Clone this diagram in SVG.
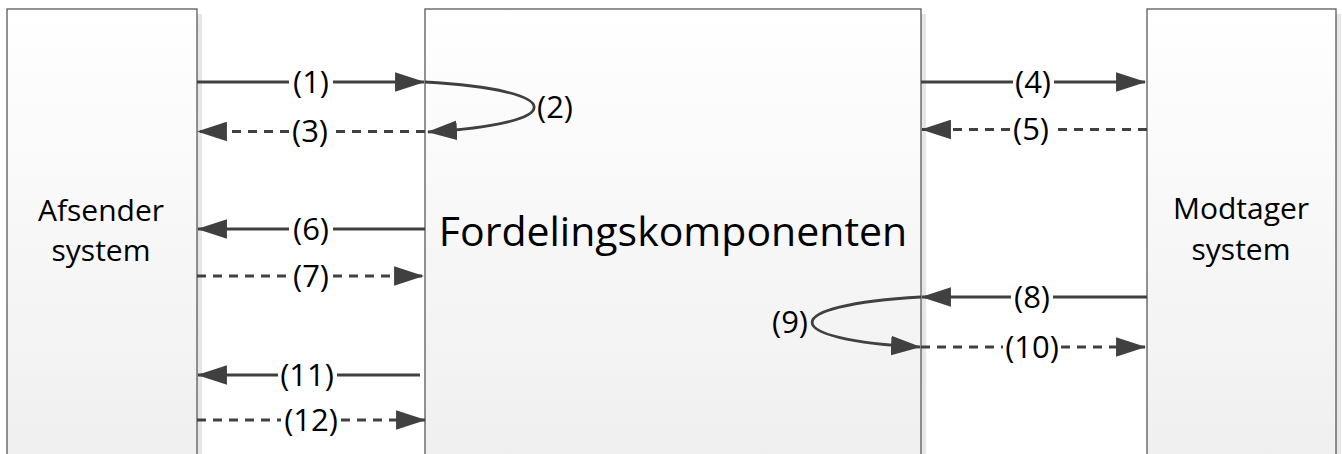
<svg xmlns="http://www.w3.org/2000/svg" width="1342" height="454" viewBox="0 0 1342 454">
<style>
.box{stroke:#595959;stroke-width:1.3;fill:url(#g)}
.sh{fill:#e6e6e6}
.t{font-family:"Open Sans","Noto Sans",sans-serif;fill:#000;text-anchor:middle}
.lbl{font-size:31px}
.name{font-size:30px}
.main{font-size:41px}
.c{stroke:#404040;stroke-width:2.8;fill:none}
.d{stroke-dasharray:9 7}
</style>
<defs>
<linearGradient id="g" x1="0" y1="0" x2="0" y2="1">
<stop offset="0" stop-color="#ffffff"/>
<stop offset="1" stop-color="#efefef"/>
</linearGradient>
<marker id="ah" markerUnits="userSpaceOnUse" markerWidth="30" markerHeight="20" viewBox="0 0 29 19" refX="28" refY="9.5" orient="auto">
<path d="M0,0 L29,9.5 L0,19 z" fill="#404040"/>
</marker>
</defs>
<rect width="1342" height="454" fill="#ffffff"/>
<g id="afsender">
<rect class="sh" x="197" y="14" width="5" height="450"/>
<rect class="box" x="7" y="9" width="190" height="460"/>
<text class="t name" x="101" y="221">Afsender</text>
<text class="t name" x="101" y="261">system</text>
</g>
<g id="fordeling">
<rect class="sh" x="921" y="14" width="5" height="450"/>
<rect class="box" x="425" y="9" width="496" height="460"/>
<text class="t main" x="673" y="246">Fordelingskomponenten</text>
</g>
<g id="modtager">
<rect class="sh" x="1336" y="14" width="5" height="450"/>
<rect class="box" x="1147" y="9" width="189" height="460"/>
<text class="t name" x="1241" y="219">Modtager</text>
<text class="t name" x="1241" y="260">system</text>
</g>
<g id="connectors">
<path class="c" d="M197,82 H289"/>
<path class="c" d="M333,82 H424" marker-end="url(#ah)"/>
<text class="t lbl" x="311" y="93">(1)</text>
<path class="c" d="M425,82 C570,90 570,124 428,132" marker-end="url(#ah)"/>
<text class="t lbl" x="555" y="118">(2)</text>
<path class="c d" d="M425,131.5 H331"/>
<path class="c d" d="M289,131.5 H198" marker-end="url(#ah)"/>
<text class="t lbl" x="310" y="142">(3)</text>
<path class="c" d="M921,82 H1013"/>
<path class="c" d="M1054,82 H1145" marker-end="url(#ah)"/>
<text class="t lbl" x="1033" y="93">(4)</text>
<path class="c d" d="M1147,129.5 H1052"/>
<path class="c d" d="M1010,129.5 H922" marker-end="url(#ah)"/>
<text class="t lbl" x="1031" y="140">(5)</text>
<path class="c" d="M425,229 H333"/>
<path class="c" d="M289,229 H198" marker-end="url(#ah)"/>
<text class="t lbl" x="311" y="240">(6)</text>
<path class="c d" d="M197,276 H289"/>
<path class="c d" d="M333,276 H423" marker-end="url(#ah)"/>
<text class="t lbl" x="311" y="287">(7)</text>
<path class="c" d="M1147,297 H1053"/>
<path class="c" d="M1011,297 H922" marker-end="url(#ah)"/>
<text class="t lbl" x="1032" y="308">(8)</text>
<path class="c" d="M921,297 C776,305 776,340 920,347" marker-end="url(#ah)"/>
<text class="t lbl" x="790" y="333">(9)</text>
<path class="c d" d="M921,347 H1003"/>
<path class="c d" d="M1061,347 H1145" marker-end="url(#ah)"/>
<text class="t lbl" x="1032" y="358">(10)</text>
<path class="c" d="M420,375 H337"/>
<path class="c" d="M278,375 H198" marker-end="url(#ah)"/>
<text class="t lbl" x="307" y="386">(11)</text>
<path class="c d" d="M197,420 H281"/>
<path class="c d" d="M341,420 H425" marker-end="url(#ah)"/>
<text class="t lbl" x="311" y="431">(12)</text>
</g>
</svg>
